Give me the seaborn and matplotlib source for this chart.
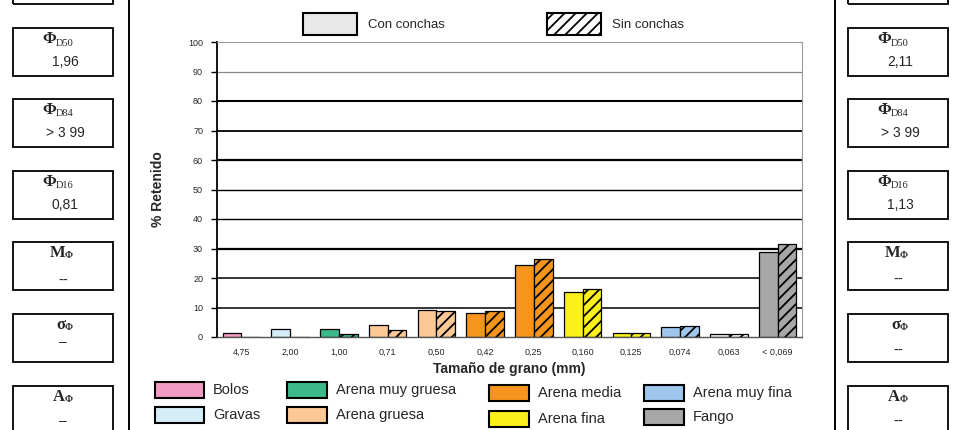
import numpy as np
import pandas as pd
import matplotlib
matplotlib.use('Agg')
import matplotlib.pyplot as plt
from matplotlib.patches import Rectangle
from matplotlib.lines import Line2D
import seaborn as sns


sns.set_style("white")
plt.rcParams['font.family'] = ['Liberation Sans', 'DejaVu Sans']
plt.rcParams['hatch.linewidth'] = 1.3

W, H = 962, 430

# datos
tamanos = ['4,75', '2,00', '1,00', '0,71', '0,50', '0,42', '0,25',
           '0,160', '0,125', '0,074', '0,063', '< 0,069']
con_conchas = [1.3, 2.8, 2.6, 4.1, 9.3, 8.0, 24.5, 15.3, 1.3, 3.4, 0.9, 28.8]
sin_conchas = [0.0, 0.0, 1.0, 2.4, 8.8, 8.8, 26.5, 16.3, 1.4, 3.7, 1.0, 31.6]
series = ['Con conchas', 'Sin conchas']
clase = ['Bolos', 'Gravas', 'Arena muy gruesa', 'Arena gruesa', 'Arena gruesa',
         'Arena media', 'Arena media', 'Arena fina', 'Arena fina',
         'Arena muy fina', '', 'Fango']

colores = {
    'Bolos': '#f29cc4',
    'Gravas': '#d5edf7',
    'Arena muy gruesa': '#3bb98a',
    'Arena gruesa': '#fcc896',
    'Arena media': '#f7941e',
    'Arena fina': '#fbef1c',
    'Arena muy fina': '#9fc7ee',
    'Fango': '#a7a7a7',
    '': '#f4f4f4',
}
leyenda_orden = ['Bolos', 'Gravas', 'Arena muy gruesa', 'Arena gruesa',
                 'Arena media', 'Arena fina', 'Arena muy fina', 'Fango']

stats_izq = [('D50', '1,96'), ('D84', '> 3 99'), ('D16', '0,81')]
momentos_izq = [('M', '--'), ('σ', '–'), ('A', '–')]
stats_der = [('D50', '2,11'), ('D84', '> 3 99'), ('D16', '1,13')]
momentos_der = [('M', '--'), ('σ', '--'), ('A', '--')]


def fx(p):
    return p / W


def fy(p):
    return 1 - p / H


fig = plt.figure(figsize=(W / 100, H / 100), dpi=100)
ax = fig.add_axes([fx(217), fy(337), 585 / W, 295 / H])

df = pd.DataFrame({
    'tamano': tamanos * 2,
    'serie': [series[0]] * len(tamanos) + [series[1]] * len(tamanos),
    'retenido': con_conchas + sin_conchas,
})
sns.barplot(data=df, x='tamano', y='retenido', hue='serie', order=tamanos,
            hue_order=series, width=0.77, palette=['#e8e8e8', '#ffffff'],
            saturation=1, edgecolor='black', linewidth=0.9, legend=False, ax=ax)

bar_colores = [colores[c] for c in clase]
for k, cont in enumerate(ax.containers):
    for j, bar in enumerate(cont):
        bar.set_facecolor(bar_colores[j])
        if k == 1:
            bar.set_hatch('///')

ax.set_ylim(0, 100)
ax.set_xlim(-0.5, len(tamanos) - 0.5)
ax.set_yticks(range(0, 101, 10))
ax.set_axisbelow(True)
ax.yaxis.grid(True, color='black')
anchos = [0, 1.1, 1.1, 1.6, 1.0, 1.0, 1.6, 1.3, 1.5, 0.9, 0]
for i, gl in enumerate(ax.get_ygridlines()):
    gl.set_linewidth(anchos[i])
    if i == 9:
        gl.set_color('#888888')

for s in ['top', 'right']:
    ax.spines[s].set_color('#9a9a9a')
    ax.spines[s].set_linewidth(0.8)
ax.spines['left'].set_color('black')
ax.spines['left'].set_linewidth(1.3)
ax.spines['bottom'].set_color('#555555')
ax.spines['bottom'].set_linewidth(1.0)

ax.set_xticks(np.arange(-0.5, len(tamanos), 1), minor=True)
ax.tick_params(axis='x', which='major', length=0, pad=8, labelsize=6.5)
ax.tick_params(axis='x', which='minor', length=4, width=1, color='#444444', direction='out')
ax.tick_params(axis='y', length=4, width=1, color='black', direction='out', pad=6, labelsize=6.5)
ax.tick_params(left=True, bottom=True)

ax.set_xlabel('Tamaño de grano (mm)', fontsize=10, fontweight='bold')
ax.xaxis.set_label_coords(0.5, -0.085)
ax.set_ylabel('% Retenido', fontsize=10, fontweight='bold')
ax.yaxis.set_label_coords(-0.089, 0.5)

# leyenda superior
for x0, nombre, face, hatch in [(303, series[0], '#e8e8e8', None),
                                (547, series[1], 'white', '///')]:
    fig.add_artist(Rectangle((fx(x0), fy(35)), 54 / W, 22 / H, transform=fig.transFigure,
                             facecolor=face, edgecolor='black', lw=1.5, hatch=hatch))
    fig.text(fx(x0 + 65), fy(25), nombre, fontsize=9.5, va='center', ha='left')

# leyenda inferior
pos_leyenda = [(155, 49, 390), (155, 49, 415), (287, 40, 390), (287, 40, 415),
               (489, 40, 393), (489, 40, 419), (644, 40, 393), (644, 40, 417)]
for nombre, (x0, ancho, yc) in zip(leyenda_orden, pos_leyenda):
    fig.add_artist(Rectangle((fx(x0), fy(yc + 8)), ancho / W, 16 / H, transform=fig.transFigure,
                             facecolor=colores[nombre], edgecolor='black', lw=1.5))
    fig.text(fx(x0 + ancho + 9), fy(yc), nombre, fontsize=10.5, va='center', ha='left')

# lineas divisorias
for xl in [129, 835]:
    fig.add_artist(Line2D([fx(xl), fx(xl)], [0, 1], transform=fig.transFigure,
                          color='black', lw=1.4))

# cajas de parametros
tops = [28, 99, 171, 242, 314, 386]
serif = ['Liberation Serif', 'DejaVu Serif']


def caja(x0, top):
    fig.add_artist(Rectangle((fx(x0), fy(top + 48)), 100 / W, 48 / H,
                             transform=fig.transFigure, fill=False, ec='black', lw=1.3))


for x0, stats, momentos, dys in [(13, stats_izq, momentos_izq, [39, 28, 35]),
                                 (848, stats_der, momentos_der, [38, 37, 36])]:
    c = x0 + 50
    caja(x0, -44)
    for (sub, val), top in zip(stats, tops[:3]):
        caja(x0, top)
        fig.text(fx(c - 14), fy(top + 11), 'Φ', family=serif, fontweight='bold',
                 fontsize=12, ha='center', va='center')
        fig.text(fx(c - 7), fy(top + 15), sub, family=serif, fontsize=7.5,
                 ha='left', va='center')
        fig.text(fx(c + 2), fy(top + 34), val, fontsize=10, ha='center', va='center')
    for (sim, val), top, dy in zip(momentos, tops[3:], dys):
        caja(x0, top)
        fig.text(fx(c + 2), fy(top + 11), sim, family=serif, fontweight='bold',
                 fontsize=12, ha='right', va='center')
        fig.text(fx(c + 2), fy(top + 14), 'Φ', family=serif, fontweight='bold',
                 fontsize=7, ha='left', va='center')
        fam = ['DejaVu Sans'] if val == '--' else None
        fig.text(fx(c), fy(top + dy), val, family=fam, fontsize=10,
                 ha='center', va='center')

fig.savefig('out.png', dpi=100)
